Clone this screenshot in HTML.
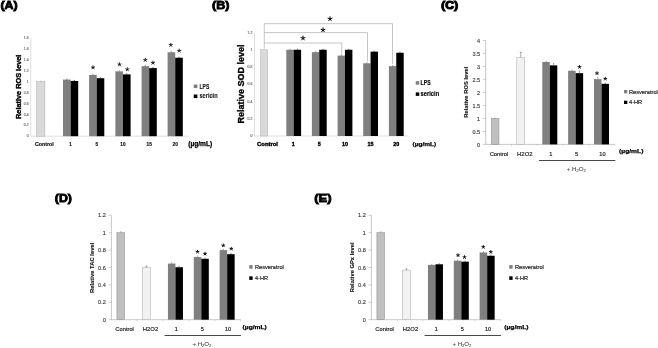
<!DOCTYPE html>
<html><head><meta charset="utf-8"><title>Figure</title>
<style>
html,body{margin:0;padding:0;background:#fff;}
body{width:658px;height:348px;overflow:hidden;}
svg{display:block;font-family:"Liberation Sans",sans-serif;filter:blur(0.3px);}
</style></head><body>
<svg width="658" height="348" viewBox="0 0 658 348">
<rect x="0" y="0" width="658" height="348" fill="#fff"/>
<text x="0.40" y="8.90" font-size="11" text-anchor="start" font-weight="bold" fill="#000" textLength="17.20" lengthAdjust="spacingAndGlyphs" stroke="#000" stroke-width="0.85" stroke-linejoin="miter">(A)</text>
<line x1="30.75" y1="37.74" x2="30.75" y2="136.20" stroke="#bfbfbf" stroke-width="0.5"/>
<line x1="30.75" y1="136.20" x2="188.50" y2="136.20" stroke="#bfbfbf" stroke-width="0.5"/>
<text x="28.55" y="137.40" font-size="3.4" text-anchor="end" font-weight="normal" fill="#777" stroke="#777" stroke-width="0.18" >0</text>
<text x="28.55" y="126.46" font-size="3.4" text-anchor="end" font-weight="normal" fill="#777" stroke="#777" stroke-width="0.18" >0.2</text>
<text x="28.55" y="115.52" font-size="3.4" text-anchor="end" font-weight="normal" fill="#777" stroke="#777" stroke-width="0.18" >0.4</text>
<text x="28.55" y="104.58" font-size="3.4" text-anchor="end" font-weight="normal" fill="#777" stroke="#777" stroke-width="0.18" >0.6</text>
<text x="28.55" y="93.64" font-size="3.4" text-anchor="end" font-weight="normal" fill="#777" stroke="#777" stroke-width="0.18" >0.8</text>
<text x="28.55" y="82.70" font-size="3.4" text-anchor="end" font-weight="normal" fill="#777" stroke="#777" stroke-width="0.18" >1</text>
<text x="28.55" y="71.76" font-size="3.4" text-anchor="end" font-weight="normal" fill="#777" stroke="#777" stroke-width="0.18" >1.2</text>
<text x="28.55" y="60.82" font-size="3.4" text-anchor="end" font-weight="normal" fill="#777" stroke="#777" stroke-width="0.18" >1.4</text>
<text x="28.55" y="49.88" font-size="3.4" text-anchor="end" font-weight="normal" fill="#777" stroke="#777" stroke-width="0.18" >1.6</text>
<text x="28.55" y="38.94" font-size="3.4" text-anchor="end" font-weight="normal" fill="#777" stroke="#777" stroke-width="0.18" >1.8</text>
<text transform="translate(20.90,86.80) rotate(-90)" font-size="7.2" text-anchor="middle" font-weight="bold" fill="#000" stroke="#000" stroke-width="0.35" textLength="64.40" lengthAdjust="spacingAndGlyphs" >Relative ROS level</text>
<rect x="36.50" y="81.50" width="8.40" height="54.70" fill="#d9d9d9" stroke="#adadad" stroke-width="0.5"/>
<line x1="40.70" y1="81.50" x2="40.70" y2="80.90" stroke="#999" stroke-width="0.4"/>
<line x1="40.10" y1="80.90" x2="41.30" y2="80.90" stroke="#999" stroke-width="0.4"/>
<rect x="63.00" y="79.59" width="7.60" height="56.61" fill="#7f7f7f"/>
<rect x="70.60" y="80.95" width="7.60" height="55.25" fill="#000"/>
<line x1="66.80" y1="79.59" x2="66.80" y2="78.99" stroke="#404040" stroke-width="0.4"/>
<line x1="66.20" y1="78.99" x2="67.40" y2="78.99" stroke="#404040" stroke-width="0.4"/>
<line x1="74.40" y1="80.95" x2="74.40" y2="80.35" stroke="#000" stroke-width="0.4"/>
<line x1="73.80" y1="80.35" x2="75.00" y2="80.35" stroke="#000" stroke-width="0.4"/>
<rect x="89.10" y="74.94" width="7.60" height="61.26" fill="#7f7f7f"/>
<rect x="96.70" y="78.22" width="7.60" height="57.98" fill="#000"/>
<line x1="92.90" y1="74.94" x2="92.90" y2="74.34" stroke="#404040" stroke-width="0.4"/>
<line x1="92.30" y1="74.34" x2="93.50" y2="74.34" stroke="#404040" stroke-width="0.4"/>
<line x1="100.50" y1="78.22" x2="100.50" y2="77.62" stroke="#000" stroke-width="0.4"/>
<line x1="99.90" y1="77.62" x2="101.10" y2="77.62" stroke="#000" stroke-width="0.4"/>
<rect x="115.40" y="71.38" width="7.60" height="64.82" fill="#7f7f7f"/>
<rect x="123.00" y="74.39" width="7.60" height="61.81" fill="#000"/>
<line x1="119.20" y1="71.38" x2="119.20" y2="70.78" stroke="#404040" stroke-width="0.4"/>
<line x1="118.60" y1="70.78" x2="119.80" y2="70.78" stroke="#404040" stroke-width="0.4"/>
<line x1="126.80" y1="74.39" x2="126.80" y2="73.79" stroke="#000" stroke-width="0.4"/>
<line x1="126.20" y1="73.79" x2="127.40" y2="73.79" stroke="#000" stroke-width="0.4"/>
<rect x="141.60" y="66.18" width="7.60" height="70.02" fill="#7f7f7f"/>
<rect x="149.20" y="68.10" width="7.60" height="68.10" fill="#000"/>
<line x1="145.40" y1="66.18" x2="145.40" y2="65.58" stroke="#404040" stroke-width="0.4"/>
<line x1="144.80" y1="65.58" x2="146.00" y2="65.58" stroke="#404040" stroke-width="0.4"/>
<line x1="153.00" y1="68.10" x2="153.00" y2="67.50" stroke="#000" stroke-width="0.4"/>
<line x1="152.40" y1="67.50" x2="153.60" y2="67.50" stroke="#000" stroke-width="0.4"/>
<rect x="167.60" y="52.24" width="7.60" height="83.96" fill="#7f7f7f"/>
<rect x="175.20" y="57.71" width="7.60" height="78.49" fill="#000"/>
<line x1="171.40" y1="52.24" x2="171.40" y2="51.64" stroke="#404040" stroke-width="0.4"/>
<line x1="170.80" y1="51.64" x2="172.00" y2="51.64" stroke="#404040" stroke-width="0.4"/>
<line x1="179.00" y1="57.71" x2="179.00" y2="57.11" stroke="#000" stroke-width="0.4"/>
<line x1="178.40" y1="57.11" x2="179.60" y2="57.11" stroke="#000" stroke-width="0.4"/>
<path d="M93.00,67.50L93.00,65.40M93.00,67.50L95.00,66.85M93.00,67.50L94.23,69.20M93.00,67.50L91.77,69.20M93.00,67.50L91.00,66.85" stroke="#000" stroke-width="0.85" fill="none" stroke-linecap="butt"/>
<path d="M119.50,64.50L119.50,62.40M119.50,64.50L121.50,63.85M119.50,64.50L120.73,66.20M119.50,64.50L118.27,66.20M119.50,64.50L117.50,63.85" stroke="#000" stroke-width="0.85" fill="none" stroke-linecap="butt"/>
<path d="M127.30,69.40L127.30,67.30M127.30,69.40L129.30,68.75M127.30,69.40L128.53,71.10M127.30,69.40L126.07,71.10M127.30,69.40L125.30,68.75" stroke="#000" stroke-width="0.85" fill="none" stroke-linecap="butt"/>
<path d="M145.30,60.00L145.30,57.90M145.30,60.00L147.30,59.35M145.30,60.00L146.53,61.70M145.30,60.00L144.07,61.70M145.30,60.00L143.30,59.35" stroke="#000" stroke-width="0.85" fill="none" stroke-linecap="butt"/>
<path d="M152.90,62.80L152.90,60.70M152.90,62.80L154.90,62.15M152.90,62.80L154.13,64.50M152.90,62.80L151.67,64.50M152.90,62.80L150.90,62.15" stroke="#000" stroke-width="0.85" fill="none" stroke-linecap="butt"/>
<path d="M170.80,45.00L170.80,42.90M170.80,45.00L172.80,44.35M170.80,45.00L172.03,46.70M170.80,45.00L169.57,46.70M170.80,45.00L168.80,44.35" stroke="#000" stroke-width="0.85" fill="none" stroke-linecap="butt"/>
<path d="M179.20,50.80L179.20,48.70M179.20,50.80L181.20,50.15M179.20,50.80L180.43,52.50M179.20,50.80L177.97,52.50M179.20,50.80L177.20,50.15" stroke="#000" stroke-width="0.85" fill="none" stroke-linecap="butt"/>
<text x="44.40" y="145.70" font-size="4.6" text-anchor="middle" font-weight="bold" fill="#111" stroke="#111" stroke-width="0.15" textLength="18.70" lengthAdjust="spacingAndGlyphs" >Control</text>
<text x="70.50" y="145.70" font-size="4.6" text-anchor="middle" font-weight="bold" fill="#111" stroke="#111" stroke-width="0.15" >1</text>
<text x="96.70" y="145.70" font-size="4.6" text-anchor="middle" font-weight="bold" fill="#111" stroke="#111" stroke-width="0.15" >5</text>
<text x="122.90" y="145.70" font-size="4.6" text-anchor="middle" font-weight="bold" fill="#111" stroke="#111" stroke-width="0.15" textLength="5.30" lengthAdjust="spacingAndGlyphs" >10</text>
<text x="149.20" y="145.70" font-size="4.6" text-anchor="middle" font-weight="bold" fill="#111" stroke="#111" stroke-width="0.15" textLength="5.30" lengthAdjust="spacingAndGlyphs" >15</text>
<text x="175.20" y="145.70" font-size="4.6" text-anchor="middle" font-weight="bold" fill="#111" stroke="#111" stroke-width="0.15" textLength="5.30" lengthAdjust="spacingAndGlyphs" >20</text>
<text x="188.20" y="146.30" font-size="6.7" text-anchor="start" font-weight="bold" fill="#000" textLength="24.10" lengthAdjust="spacingAndGlyphs" stroke="#000" stroke-width="0.25">(µg/mL)</text>
<rect x="193.75" y="84.50" width="3.65" height="3.60" fill="#7f7f7f"/>
<text x="199.50" y="88.60" font-size="6.3" text-anchor="start" font-weight="bold" fill="#111" stroke="#111" stroke-width="0.1" textLength="9.80" lengthAdjust="spacingAndGlyphs" >LPS</text>
<rect x="193.75" y="94.50" width="3.65" height="3.60" fill="#000"/>
<text x="199.50" y="98.40" font-size="6.3" text-anchor="start" font-weight="bold" fill="#111" stroke="#111" stroke-width="0.1" textLength="18.10" lengthAdjust="spacingAndGlyphs" >sericin</text>
<text x="212.00" y="8.90" font-size="11" text-anchor="start" font-weight="bold" fill="#000" textLength="17.40" lengthAdjust="spacingAndGlyphs" stroke="#000" stroke-width="0.85" stroke-linejoin="miter">(B)</text>
<line x1="254.50" y1="32.50" x2="254.50" y2="136.00" stroke="#bfbfbf" stroke-width="0.5"/>
<line x1="254.50" y1="136.00" x2="407.50" y2="136.00" stroke="#bfbfbf" stroke-width="0.5"/>
<text x="252.30" y="137.20" font-size="3.4" text-anchor="end" font-weight="normal" fill="#777" stroke="#777" stroke-width="0.18" >0</text>
<text x="252.30" y="119.95" font-size="3.4" text-anchor="end" font-weight="normal" fill="#777" stroke="#777" stroke-width="0.18" >0.2</text>
<text x="252.30" y="102.70" font-size="3.4" text-anchor="end" font-weight="normal" fill="#777" stroke="#777" stroke-width="0.18" >0.4</text>
<text x="252.30" y="85.45" font-size="3.4" text-anchor="end" font-weight="normal" fill="#777" stroke="#777" stroke-width="0.18" >0.6</text>
<text x="252.30" y="68.20" font-size="3.4" text-anchor="end" font-weight="normal" fill="#777" stroke="#777" stroke-width="0.18" >0.8</text>
<text x="252.30" y="50.95" font-size="3.4" text-anchor="end" font-weight="normal" fill="#777" stroke="#777" stroke-width="0.18" >1</text>
<text x="252.30" y="33.70" font-size="3.4" text-anchor="end" font-weight="normal" fill="#777" stroke="#777" stroke-width="0.18" >1.2</text>
<text transform="translate(244.10,84.00) rotate(-90)" font-size="8.9" text-anchor="middle" font-weight="bold" fill="#000" stroke="#000" stroke-width="0.35" textLength="79.00" lengthAdjust="spacingAndGlyphs" >Relative SOD level</text>
<rect x="260.60" y="49.75" width="7.10" height="86.25" fill="#d9d9d9" stroke="#adadad" stroke-width="0.5"/>
<rect x="286.30" y="49.75" width="7.35" height="86.25" fill="#7f7f7f"/>
<rect x="293.65" y="49.75" width="7.45" height="86.25" fill="#000"/>
<line x1="290.00" y1="49.75" x2="290.00" y2="49.25" stroke="#404040" stroke-width="0.4"/>
<line x1="289.40" y1="49.25" x2="290.60" y2="49.25" stroke="#404040" stroke-width="0.4"/>
<line x1="297.40" y1="49.75" x2="297.40" y2="49.25" stroke="#000" stroke-width="0.4"/>
<line x1="296.80" y1="49.25" x2="298.00" y2="49.25" stroke="#000" stroke-width="0.4"/>
<rect x="311.90" y="52.17" width="7.35" height="83.83" fill="#7f7f7f"/>
<rect x="319.25" y="49.75" width="7.45" height="86.25" fill="#000"/>
<line x1="315.60" y1="52.17" x2="315.60" y2="51.67" stroke="#404040" stroke-width="0.4"/>
<line x1="315.00" y1="51.67" x2="316.20" y2="51.67" stroke="#404040" stroke-width="0.4"/>
<line x1="323.00" y1="49.75" x2="323.00" y2="49.25" stroke="#000" stroke-width="0.4"/>
<line x1="322.40" y1="49.25" x2="323.60" y2="49.25" stroke="#000" stroke-width="0.4"/>
<rect x="337.60" y="55.61" width="7.35" height="80.39" fill="#7f7f7f"/>
<rect x="344.95" y="49.75" width="7.45" height="86.25" fill="#000"/>
<line x1="341.30" y1="55.61" x2="341.30" y2="55.11" stroke="#404040" stroke-width="0.4"/>
<line x1="340.70" y1="55.11" x2="341.90" y2="55.11" stroke="#404040" stroke-width="0.4"/>
<line x1="348.70" y1="49.75" x2="348.70" y2="49.25" stroke="#000" stroke-width="0.4"/>
<line x1="348.10" y1="49.25" x2="349.30" y2="49.25" stroke="#000" stroke-width="0.4"/>
<rect x="363.20" y="63.29" width="7.35" height="72.71" fill="#7f7f7f"/>
<rect x="370.55" y="51.65" width="7.45" height="84.35" fill="#000"/>
<line x1="366.90" y1="63.29" x2="366.90" y2="62.79" stroke="#404040" stroke-width="0.4"/>
<line x1="366.30" y1="62.79" x2="367.50" y2="62.79" stroke="#404040" stroke-width="0.4"/>
<line x1="374.30" y1="51.65" x2="374.30" y2="51.15" stroke="#000" stroke-width="0.4"/>
<line x1="373.70" y1="51.15" x2="374.90" y2="51.15" stroke="#000" stroke-width="0.4"/>
<rect x="388.90" y="66.14" width="7.35" height="69.86" fill="#7f7f7f"/>
<rect x="396.25" y="52.77" width="7.45" height="83.23" fill="#000"/>
<line x1="392.60" y1="66.14" x2="392.60" y2="65.64" stroke="#404040" stroke-width="0.4"/>
<line x1="392.00" y1="65.64" x2="393.20" y2="65.64" stroke="#404040" stroke-width="0.4"/>
<line x1="400.00" y1="52.77" x2="400.00" y2="52.27" stroke="#000" stroke-width="0.4"/>
<line x1="399.40" y1="52.27" x2="400.60" y2="52.27" stroke="#000" stroke-width="0.4"/>
<line x1="264.25" y1="23.70" x2="264.25" y2="48.60" stroke="#8c8c8c" stroke-width="0.5"/>
<line x1="264.25" y1="23.70" x2="392.50" y2="23.70" stroke="#8c8c8c" stroke-width="0.5"/>
<line x1="392.50" y1="23.70" x2="392.50" y2="64.00" stroke="#8c8c8c" stroke-width="0.5"/>
<line x1="264.25" y1="32.60" x2="367.50" y2="32.60" stroke="#8c8c8c" stroke-width="0.5"/>
<line x1="367.50" y1="32.60" x2="367.50" y2="61.50" stroke="#8c8c8c" stroke-width="0.5"/>
<line x1="264.25" y1="43.00" x2="341.80" y2="43.00" stroke="#8c8c8c" stroke-width="0.5"/>
<line x1="341.80" y1="43.00" x2="341.80" y2="55.00" stroke="#8c8c8c" stroke-width="0.5"/>
<path d="M330.00,18.90L330.00,16.40M330.00,18.90L332.38,18.13M330.00,18.90L331.47,20.92M330.00,18.90L328.53,20.92M330.00,18.90L327.62,18.13" stroke="#000" stroke-width="1.0" fill="none" stroke-linecap="butt"/>
<path d="M323.00,30.00L323.00,27.50M323.00,30.00L325.38,29.23M323.00,30.00L324.47,32.02M323.00,30.00L321.53,32.02M323.00,30.00L320.62,29.23" stroke="#000" stroke-width="1.0" fill="none" stroke-linecap="butt"/>
<path d="M303.00,38.20L303.00,35.70M303.00,38.20L305.38,37.43M303.00,38.20L304.47,40.22M303.00,38.20L301.53,40.22M303.00,38.20L300.62,37.43" stroke="#000" stroke-width="1.0" fill="none" stroke-linecap="butt"/>
<text x="267.50" y="146.00" font-size="5.4" text-anchor="middle" font-weight="bold" fill="#000" textLength="20.80" lengthAdjust="spacingAndGlyphs" stroke="#000" stroke-width="0.35">Control</text>
<text x="293.30" y="146.00" font-size="5.4" text-anchor="middle" font-weight="bold" fill="#000" stroke="#000" stroke-width="0.35">1</text>
<text x="319.30" y="146.00" font-size="5.4" text-anchor="middle" font-weight="bold" fill="#000" stroke="#000" stroke-width="0.35">5</text>
<text x="345.00" y="146.00" font-size="5.4" text-anchor="middle" font-weight="bold" fill="#000" stroke="#000" stroke-width="0.35">10</text>
<text x="370.60" y="146.00" font-size="5.4" text-anchor="middle" font-weight="bold" fill="#000" stroke="#000" stroke-width="0.35">15</text>
<text x="396.30" y="146.00" font-size="5.4" text-anchor="middle" font-weight="bold" fill="#000" stroke="#000" stroke-width="0.35">20</text>
<text x="412.50" y="146.30" font-size="6.1" text-anchor="start" font-weight="bold" fill="#000" textLength="23.80" lengthAdjust="spacingAndGlyphs" stroke="#000" stroke-width="0.25">(µg/mL)</text>
<rect x="415.75" y="81.20" width="3.50" height="3.50" fill="#7f7f7f"/>
<text x="420.60" y="85.10" font-size="6.3" text-anchor="start" font-weight="bold" fill="#000" stroke="#000" stroke-width="0.15" textLength="10.00" lengthAdjust="spacingAndGlyphs" >LPS</text>
<rect x="415.75" y="92.40" width="3.50" height="3.50" fill="#000"/>
<text x="420.60" y="96.10" font-size="6.3" text-anchor="start" font-weight="bold" fill="#000" stroke="#000" stroke-width="0.15" textLength="18.60" lengthAdjust="spacingAndGlyphs" >sericin</text>
<text x="441.10" y="8.90" font-size="11" text-anchor="start" font-weight="bold" fill="#000" textLength="17.30" lengthAdjust="spacingAndGlyphs" stroke="#000" stroke-width="0.85" stroke-linejoin="miter">(<tspan font-size="10.4" dy="0" stroke-width="1.1">C</tspan><tspan dy="0">)</tspan></text>
<line x1="485.75" y1="40.40" x2="485.75" y2="144.40" stroke="#9a9a9a" stroke-width="0.55"/>
<line x1="485.75" y1="144.40" x2="615.00" y2="144.40" stroke="#9a9a9a" stroke-width="0.55"/>
<line x1="482.95" y1="144.40" x2="485.75" y2="144.40" stroke="#9a9a9a" stroke-width="0.5"/>
<text x="480.15" y="146.55" font-size="6.2" text-anchor="end" font-weight="normal" fill="#333" stroke="#333" stroke-width="0.12" textLength="3.10" lengthAdjust="spacingAndGlyphs" >0</text>
<line x1="482.95" y1="131.40" x2="485.75" y2="131.40" stroke="#9a9a9a" stroke-width="0.5"/>
<text x="480.15" y="133.55" font-size="6.2" text-anchor="end" font-weight="normal" fill="#333" stroke="#333" stroke-width="0.12" textLength="7.70" lengthAdjust="spacingAndGlyphs" >0.5</text>
<line x1="482.95" y1="118.40" x2="485.75" y2="118.40" stroke="#9a9a9a" stroke-width="0.5"/>
<text x="480.15" y="120.55" font-size="6.2" text-anchor="end" font-weight="normal" fill="#333" stroke="#333" stroke-width="0.12" textLength="3.10" lengthAdjust="spacingAndGlyphs" >1</text>
<line x1="482.95" y1="105.40" x2="485.75" y2="105.40" stroke="#9a9a9a" stroke-width="0.5"/>
<text x="480.15" y="107.55" font-size="6.2" text-anchor="end" font-weight="normal" fill="#333" stroke="#333" stroke-width="0.12" textLength="7.70" lengthAdjust="spacingAndGlyphs" >1.5</text>
<line x1="482.95" y1="92.40" x2="485.75" y2="92.40" stroke="#9a9a9a" stroke-width="0.5"/>
<text x="480.15" y="94.55" font-size="6.2" text-anchor="end" font-weight="normal" fill="#333" stroke="#333" stroke-width="0.12" textLength="3.10" lengthAdjust="spacingAndGlyphs" >2</text>
<line x1="482.95" y1="79.40" x2="485.75" y2="79.40" stroke="#9a9a9a" stroke-width="0.5"/>
<text x="480.15" y="81.55" font-size="6.2" text-anchor="end" font-weight="normal" fill="#333" stroke="#333" stroke-width="0.12" textLength="7.70" lengthAdjust="spacingAndGlyphs" >2.5</text>
<line x1="482.95" y1="66.40" x2="485.75" y2="66.40" stroke="#9a9a9a" stroke-width="0.5"/>
<text x="480.15" y="68.55" font-size="6.2" text-anchor="end" font-weight="normal" fill="#333" stroke="#333" stroke-width="0.12" textLength="3.10" lengthAdjust="spacingAndGlyphs" >3</text>
<line x1="482.95" y1="53.40" x2="485.75" y2="53.40" stroke="#9a9a9a" stroke-width="0.5"/>
<text x="480.15" y="55.55" font-size="6.2" text-anchor="end" font-weight="normal" fill="#333" stroke="#333" stroke-width="0.12" textLength="7.70" lengthAdjust="spacingAndGlyphs" >3.5</text>
<line x1="482.95" y1="40.40" x2="485.75" y2="40.40" stroke="#9a9a9a" stroke-width="0.5"/>
<text x="480.15" y="42.55" font-size="6.2" text-anchor="end" font-weight="normal" fill="#333" stroke="#333" stroke-width="0.12" textLength="3.10" lengthAdjust="spacingAndGlyphs" >4</text>
<line x1="511.60" y1="144.40" x2="511.60" y2="146.00" stroke="#b5b5b5" stroke-width="0.5"/>
<line x1="537.45" y1="144.40" x2="537.45" y2="146.00" stroke="#b5b5b5" stroke-width="0.5"/>
<line x1="563.30" y1="144.40" x2="563.30" y2="146.00" stroke="#b5b5b5" stroke-width="0.5"/>
<line x1="589.15" y1="144.40" x2="589.15" y2="146.00" stroke="#b5b5b5" stroke-width="0.5"/>
<line x1="615.00" y1="144.40" x2="615.00" y2="146.00" stroke="#b5b5b5" stroke-width="0.5"/>
<text transform="translate(468.25,92.20) rotate(-90)" font-size="5.9" text-anchor="middle" font-weight="bold" fill="#111" stroke="#111" stroke-width="0.1" textLength="51.00" lengthAdjust="spacingAndGlyphs" >Relative ROS level</text>
<rect x="491.25" y="118.40" width="7.70" height="26.00" fill="#bfbfbf" stroke="#8c8c8c" stroke-width="0.5"/>
<line x1="495.10" y1="118.40" x2="495.10" y2="117.90" stroke="#777" stroke-width="0.4"/>
<line x1="494.50" y1="117.90" x2="495.70" y2="117.90" stroke="#777" stroke-width="0.4"/>
<rect x="516.80" y="57.30" width="7.90" height="87.10" fill="#f2f2f2" stroke="#a6a6a6" stroke-width="0.5"/>
<line x1="520.75" y1="57.30" x2="520.75" y2="52.30" stroke="#444" stroke-width="0.45"/>
<line x1="519.75" y1="52.30" x2="521.75" y2="52.30" stroke="#444" stroke-width="0.45"/>
<rect x="542.30" y="61.98" width="7.50" height="82.42" fill="#7f7f7f"/>
<rect x="549.80" y="65.36" width="7.50" height="79.04" fill="#000"/>
<line x1="546.05" y1="61.98" x2="546.05" y2="61.18" stroke="#555" stroke-width="0.4"/>
<line x1="545.45" y1="61.18" x2="546.65" y2="61.18" stroke="#555" stroke-width="0.4"/>
<line x1="553.55" y1="65.36" x2="553.55" y2="63.56" stroke="#222" stroke-width="0.4"/>
<line x1="552.95" y1="63.56" x2="554.15" y2="63.56" stroke="#222" stroke-width="0.4"/>
<rect x="568.15" y="70.82" width="7.50" height="73.58" fill="#7f7f7f"/>
<rect x="575.65" y="73.16" width="7.50" height="71.24" fill="#000"/>
<line x1="571.90" y1="70.82" x2="571.90" y2="70.02" stroke="#555" stroke-width="0.4"/>
<line x1="571.30" y1="70.02" x2="572.50" y2="70.02" stroke="#555" stroke-width="0.4"/>
<line x1="579.40" y1="73.16" x2="579.40" y2="70.96" stroke="#222" stroke-width="0.4"/>
<line x1="578.80" y1="70.96" x2="580.00" y2="70.96" stroke="#222" stroke-width="0.4"/>
<rect x="594.00" y="79.14" width="7.50" height="65.26" fill="#7f7f7f"/>
<rect x="601.50" y="83.82" width="7.50" height="60.58" fill="#000"/>
<line x1="597.75" y1="79.14" x2="597.75" y2="77.54" stroke="#555" stroke-width="0.4"/>
<line x1="597.15" y1="77.54" x2="598.35" y2="77.54" stroke="#555" stroke-width="0.4"/>
<line x1="605.25" y1="83.82" x2="605.25" y2="83.02" stroke="#222" stroke-width="0.4"/>
<line x1="604.65" y1="83.02" x2="605.85" y2="83.02" stroke="#222" stroke-width="0.4"/>
<path d="M579.50,67.00L579.50,65.05M579.50,67.00L581.35,66.40M579.50,67.00L580.65,68.58M579.50,67.00L578.35,68.58M579.50,67.00L577.65,66.40" stroke="#000" stroke-width="0.9" fill="none" stroke-linecap="butt"/>
<path d="M597.00,73.30L597.00,71.35M597.00,73.30L598.85,72.70M597.00,73.30L598.15,74.88M597.00,73.30L595.85,74.88M597.00,73.30L595.15,72.70" stroke="#000" stroke-width="0.9" fill="none" stroke-linecap="butt"/>
<path d="M605.30,78.80L605.30,76.85M605.30,78.80L607.15,78.20M605.30,78.80L606.45,80.38M605.30,78.80L604.15,80.38M605.30,78.80L603.45,78.20" stroke="#000" stroke-width="0.9" fill="none" stroke-linecap="butt"/>
<text x="498.98" y="155.50" font-size="5.6" text-anchor="middle" font-weight="normal" fill="#222" stroke="#222" stroke-width="0.18" textLength="18.60" lengthAdjust="spacingAndGlyphs" >Control</text>
<text x="524.82" y="155.50" font-size="5.6" text-anchor="middle" font-weight="normal" fill="#222" stroke="#222" stroke-width="0.18" textLength="15.40" lengthAdjust="spacingAndGlyphs" >H2O2</text>
<text x="550.77" y="155.50" font-size="5.6" text-anchor="middle" font-weight="normal" fill="#222" stroke="#222" stroke-width="0.18" >1</text>
<text x="576.62" y="155.50" font-size="5.6" text-anchor="middle" font-weight="normal" fill="#222" stroke="#222" stroke-width="0.18" >5</text>
<text x="602.48" y="155.50" font-size="5.6" text-anchor="middle" font-weight="normal" fill="#222" stroke="#222" stroke-width="0.18" >10</text>
<text x="619.10" y="153.00" font-size="6.0" text-anchor="start" font-weight="bold" fill="#000" textLength="24.30" lengthAdjust="spacingAndGlyphs" stroke="#000" stroke-width="0.25">(µg/mL)</text>
<line x1="538.95" y1="160.50" x2="615.30" y2="160.50" stroke="#1a1a1a" stroke-width="0.8"/>
<text x="576.23" y="170.80" font-size="6.1" text-anchor="middle" fill="#4d4d4d" stroke="#4d4d4d" stroke-width="0.1">+ H<tspan font-size="4.1" dy="1.1">2</tspan><tspan dy="-1.1">O</tspan><tspan font-size="4.1" dy="1.1">2</tspan></text>
<rect x="624.00" y="90.00" width="3.30" height="3.30" fill="#7f7f7f"/>
<text x="629.00" y="93.90" font-size="5.6" text-anchor="start" font-weight="normal" fill="#222" stroke="#222" stroke-width="0.18" textLength="28.80" lengthAdjust="spacingAndGlyphs" >Resveratrol</text>
<rect x="624.00" y="100.70" width="3.30" height="3.30" fill="#000"/>
<text x="629.00" y="104.40" font-size="5.6" text-anchor="start" font-weight="normal" fill="#222" stroke="#222" stroke-width="0.18" textLength="13.20" lengthAdjust="spacingAndGlyphs" >4-HR</text>
<text x="54.80" y="202.10" font-size="11" text-anchor="start" font-weight="bold" fill="#000" textLength="17.10" lengthAdjust="spacingAndGlyphs" stroke="#000" stroke-width="0.85" stroke-linejoin="miter">(D)</text>
<line x1="111.40" y1="215.30" x2="111.40" y2="319.70" stroke="#9a9a9a" stroke-width="0.55"/>
<line x1="111.40" y1="319.70" x2="240.65" y2="319.70" stroke="#9a9a9a" stroke-width="0.55"/>
<line x1="108.60" y1="319.70" x2="111.40" y2="319.70" stroke="#9a9a9a" stroke-width="0.5"/>
<text x="105.80" y="321.85" font-size="6.2" text-anchor="end" font-weight="normal" fill="#333" stroke="#333" stroke-width="0.12" textLength="3.10" lengthAdjust="spacingAndGlyphs" >0</text>
<line x1="108.60" y1="302.30" x2="111.40" y2="302.30" stroke="#9a9a9a" stroke-width="0.5"/>
<text x="105.80" y="304.45" font-size="6.2" text-anchor="end" font-weight="normal" fill="#333" stroke="#333" stroke-width="0.12" textLength="7.70" lengthAdjust="spacingAndGlyphs" >0.2</text>
<line x1="108.60" y1="284.90" x2="111.40" y2="284.90" stroke="#9a9a9a" stroke-width="0.5"/>
<text x="105.80" y="287.05" font-size="6.2" text-anchor="end" font-weight="normal" fill="#333" stroke="#333" stroke-width="0.12" textLength="7.70" lengthAdjust="spacingAndGlyphs" >0.4</text>
<line x1="108.60" y1="267.50" x2="111.40" y2="267.50" stroke="#9a9a9a" stroke-width="0.5"/>
<text x="105.80" y="269.65" font-size="6.2" text-anchor="end" font-weight="normal" fill="#333" stroke="#333" stroke-width="0.12" textLength="7.70" lengthAdjust="spacingAndGlyphs" >0.6</text>
<line x1="108.60" y1="250.10" x2="111.40" y2="250.10" stroke="#9a9a9a" stroke-width="0.5"/>
<text x="105.80" y="252.25" font-size="6.2" text-anchor="end" font-weight="normal" fill="#333" stroke="#333" stroke-width="0.12" textLength="7.70" lengthAdjust="spacingAndGlyphs" >0.8</text>
<line x1="108.60" y1="232.70" x2="111.40" y2="232.70" stroke="#9a9a9a" stroke-width="0.5"/>
<text x="105.80" y="234.85" font-size="6.2" text-anchor="end" font-weight="normal" fill="#333" stroke="#333" stroke-width="0.12" textLength="3.10" lengthAdjust="spacingAndGlyphs" >1</text>
<line x1="108.60" y1="215.30" x2="111.40" y2="215.30" stroke="#9a9a9a" stroke-width="0.5"/>
<text x="105.80" y="217.45" font-size="6.2" text-anchor="end" font-weight="normal" fill="#333" stroke="#333" stroke-width="0.12" textLength="7.70" lengthAdjust="spacingAndGlyphs" >1.2</text>
<line x1="137.25" y1="319.70" x2="137.25" y2="321.30" stroke="#b5b5b5" stroke-width="0.5"/>
<line x1="163.10" y1="319.70" x2="163.10" y2="321.30" stroke="#b5b5b5" stroke-width="0.5"/>
<line x1="188.95" y1="319.70" x2="188.95" y2="321.30" stroke="#b5b5b5" stroke-width="0.5"/>
<line x1="214.80" y1="319.70" x2="214.80" y2="321.30" stroke="#b5b5b5" stroke-width="0.5"/>
<line x1="240.65" y1="319.70" x2="240.65" y2="321.30" stroke="#b5b5b5" stroke-width="0.5"/>
<text transform="translate(93.90,267.90) rotate(-90)" font-size="5.9" text-anchor="middle" font-weight="bold" fill="#111" stroke="#111" stroke-width="0.1" textLength="50.40" lengthAdjust="spacingAndGlyphs" >Relative TAC level</text>
<rect x="116.90" y="232.70" width="7.70" height="87.00" fill="#bfbfbf" stroke="#8c8c8c" stroke-width="0.5"/>
<line x1="120.75" y1="232.70" x2="120.75" y2="231.70" stroke="#777" stroke-width="0.4"/>
<line x1="120.15" y1="231.70" x2="121.35" y2="231.70" stroke="#777" stroke-width="0.4"/>
<rect x="142.45" y="267.50" width="7.90" height="52.20" fill="#f2f2f2" stroke="#a6a6a6" stroke-width="0.5"/>
<line x1="146.40" y1="267.50" x2="146.40" y2="266.10" stroke="#444" stroke-width="0.45"/>
<line x1="145.40" y1="266.10" x2="147.40" y2="266.10" stroke="#444" stroke-width="0.45"/>
<rect x="167.95" y="263.58" width="7.50" height="56.12" fill="#7f7f7f"/>
<rect x="175.45" y="267.24" width="7.50" height="52.46" fill="#000"/>
<line x1="171.70" y1="263.58" x2="171.70" y2="262.58" stroke="#555" stroke-width="0.4"/>
<line x1="171.10" y1="262.58" x2="172.30" y2="262.58" stroke="#555" stroke-width="0.4"/>
<line x1="179.20" y1="267.24" x2="179.20" y2="266.44" stroke="#222" stroke-width="0.4"/>
<line x1="178.60" y1="266.44" x2="179.80" y2="266.44" stroke="#222" stroke-width="0.4"/>
<rect x="193.80" y="257.06" width="7.50" height="62.64" fill="#7f7f7f"/>
<rect x="201.30" y="258.80" width="7.50" height="60.90" fill="#000"/>
<line x1="197.55" y1="257.06" x2="197.55" y2="256.16" stroke="#555" stroke-width="0.4"/>
<line x1="196.95" y1="256.16" x2="198.15" y2="256.16" stroke="#555" stroke-width="0.4"/>
<line x1="205.05" y1="258.80" x2="205.05" y2="258.00" stroke="#222" stroke-width="0.4"/>
<line x1="204.45" y1="258.00" x2="205.65" y2="258.00" stroke="#222" stroke-width="0.4"/>
<rect x="219.65" y="250.10" width="7.50" height="69.60" fill="#7f7f7f"/>
<rect x="227.15" y="254.19" width="7.50" height="65.51" fill="#000"/>
<line x1="223.40" y1="250.10" x2="223.40" y2="249.30" stroke="#555" stroke-width="0.4"/>
<line x1="222.80" y1="249.30" x2="224.00" y2="249.30" stroke="#555" stroke-width="0.4"/>
<line x1="230.90" y1="254.19" x2="230.90" y2="253.39" stroke="#222" stroke-width="0.4"/>
<line x1="230.30" y1="253.39" x2="231.50" y2="253.39" stroke="#222" stroke-width="0.4"/>
<path d="M197.50,251.80L197.50,249.85M197.50,251.80L199.35,251.20M197.50,251.80L198.65,253.38M197.50,251.80L196.35,253.38M197.50,251.80L195.65,251.20" stroke="#000" stroke-width="0.9" fill="none" stroke-linecap="butt"/>
<path d="M205.00,253.80L205.00,251.85M205.00,253.80L206.85,253.20M205.00,253.80L206.15,255.38M205.00,253.80L203.85,255.38M205.00,253.80L203.15,253.20" stroke="#000" stroke-width="0.9" fill="none" stroke-linecap="butt"/>
<path d="M223.30,245.50L223.30,243.55M223.30,245.50L225.15,244.90M223.30,245.50L224.45,247.08M223.30,245.50L222.15,247.08M223.30,245.50L221.45,244.90" stroke="#000" stroke-width="0.9" fill="none" stroke-linecap="butt"/>
<path d="M231.30,248.80L231.30,246.85M231.30,248.80L233.15,248.20M231.30,248.80L232.45,250.38M231.30,248.80L230.15,250.38M231.30,248.80L229.45,248.20" stroke="#000" stroke-width="0.9" fill="none" stroke-linecap="butt"/>
<text x="124.62" y="330.80" font-size="5.6" text-anchor="middle" font-weight="normal" fill="#222" stroke="#222" stroke-width="0.18" textLength="18.60" lengthAdjust="spacingAndGlyphs" >Control</text>
<text x="150.48" y="330.80" font-size="5.6" text-anchor="middle" font-weight="normal" fill="#222" stroke="#222" stroke-width="0.18" textLength="15.40" lengthAdjust="spacingAndGlyphs" >H2O2</text>
<text x="176.43" y="330.80" font-size="5.6" text-anchor="middle" font-weight="normal" fill="#222" stroke="#222" stroke-width="0.18" >1</text>
<text x="202.28" y="330.80" font-size="5.6" text-anchor="middle" font-weight="normal" fill="#222" stroke="#222" stroke-width="0.18" >5</text>
<text x="228.13" y="330.80" font-size="5.6" text-anchor="middle" font-weight="normal" fill="#222" stroke="#222" stroke-width="0.18" >10</text>
<text x="242.55" y="329.30" font-size="6.0" text-anchor="start" font-weight="bold" fill="#000" textLength="24.30" lengthAdjust="spacingAndGlyphs" stroke="#000" stroke-width="0.25">(µg/mL)</text>
<line x1="164.60" y1="335.50" x2="240.95" y2="335.50" stroke="#1a1a1a" stroke-width="0.8"/>
<text x="201.88" y="346.10" font-size="6.1" text-anchor="middle" fill="#4d4d4d" stroke="#4d4d4d" stroke-width="0.1">+ H<tspan font-size="4.1" dy="1.1">2</tspan><tspan dy="-1.1">O</tspan><tspan font-size="4.1" dy="1.1">2</tspan></text>
<rect x="249.25" y="265.10" width="3.35" height="3.60" fill="#7f7f7f"/>
<text x="255.00" y="268.90" font-size="5.6" text-anchor="start" font-weight="normal" fill="#222" stroke="#222" stroke-width="0.18" textLength="28.80" lengthAdjust="spacingAndGlyphs" >Resveratrol</text>
<rect x="249.25" y="276.30" width="3.35" height="3.60" fill="#000"/>
<text x="255.00" y="280.00" font-size="5.6" text-anchor="start" font-weight="normal" fill="#222" stroke="#222" stroke-width="0.18" textLength="13.00" lengthAdjust="spacingAndGlyphs" >4-HR</text>
<text x="314.20" y="202.10" font-size="11" text-anchor="start" font-weight="bold" fill="#000" textLength="17.40" lengthAdjust="spacingAndGlyphs" stroke="#000" stroke-width="0.85" stroke-linejoin="miter">(E)</text>
<line x1="371.40" y1="215.30" x2="371.40" y2="319.70" stroke="#9a9a9a" stroke-width="0.55"/>
<line x1="371.40" y1="319.70" x2="500.65" y2="319.70" stroke="#9a9a9a" stroke-width="0.55"/>
<line x1="368.60" y1="319.70" x2="371.40" y2="319.70" stroke="#9a9a9a" stroke-width="0.5"/>
<text x="365.80" y="321.85" font-size="6.2" text-anchor="end" font-weight="normal" fill="#333" stroke="#333" stroke-width="0.12" textLength="3.10" lengthAdjust="spacingAndGlyphs" >0</text>
<line x1="368.60" y1="302.30" x2="371.40" y2="302.30" stroke="#9a9a9a" stroke-width="0.5"/>
<text x="365.80" y="304.45" font-size="6.2" text-anchor="end" font-weight="normal" fill="#333" stroke="#333" stroke-width="0.12" textLength="7.70" lengthAdjust="spacingAndGlyphs" >0.2</text>
<line x1="368.60" y1="284.90" x2="371.40" y2="284.90" stroke="#9a9a9a" stroke-width="0.5"/>
<text x="365.80" y="287.05" font-size="6.2" text-anchor="end" font-weight="normal" fill="#333" stroke="#333" stroke-width="0.12" textLength="7.70" lengthAdjust="spacingAndGlyphs" >0.4</text>
<line x1="368.60" y1="267.50" x2="371.40" y2="267.50" stroke="#9a9a9a" stroke-width="0.5"/>
<text x="365.80" y="269.65" font-size="6.2" text-anchor="end" font-weight="normal" fill="#333" stroke="#333" stroke-width="0.12" textLength="7.70" lengthAdjust="spacingAndGlyphs" >0.6</text>
<line x1="368.60" y1="250.10" x2="371.40" y2="250.10" stroke="#9a9a9a" stroke-width="0.5"/>
<text x="365.80" y="252.25" font-size="6.2" text-anchor="end" font-weight="normal" fill="#333" stroke="#333" stroke-width="0.12" textLength="7.70" lengthAdjust="spacingAndGlyphs" >0.8</text>
<line x1="368.60" y1="232.70" x2="371.40" y2="232.70" stroke="#9a9a9a" stroke-width="0.5"/>
<text x="365.80" y="234.85" font-size="6.2" text-anchor="end" font-weight="normal" fill="#333" stroke="#333" stroke-width="0.12" textLength="3.10" lengthAdjust="spacingAndGlyphs" >1</text>
<line x1="368.60" y1="215.30" x2="371.40" y2="215.30" stroke="#9a9a9a" stroke-width="0.5"/>
<text x="365.80" y="217.45" font-size="6.2" text-anchor="end" font-weight="normal" fill="#333" stroke="#333" stroke-width="0.12" textLength="7.70" lengthAdjust="spacingAndGlyphs" >1.2</text>
<line x1="397.25" y1="319.70" x2="397.25" y2="321.30" stroke="#b5b5b5" stroke-width="0.5"/>
<line x1="423.10" y1="319.70" x2="423.10" y2="321.30" stroke="#b5b5b5" stroke-width="0.5"/>
<line x1="448.95" y1="319.70" x2="448.95" y2="321.30" stroke="#b5b5b5" stroke-width="0.5"/>
<line x1="474.80" y1="319.70" x2="474.80" y2="321.30" stroke="#b5b5b5" stroke-width="0.5"/>
<line x1="500.65" y1="319.70" x2="500.65" y2="321.30" stroke="#b5b5b5" stroke-width="0.5"/>
<text transform="translate(353.90,267.40) rotate(-90)" font-size="5.9" text-anchor="middle" font-weight="bold" fill="#111" stroke="#111" stroke-width="0.1" textLength="49.80" lengthAdjust="spacingAndGlyphs" >Relative GPx level</text>
<rect x="376.90" y="232.70" width="7.70" height="87.00" fill="#bfbfbf" stroke="#8c8c8c" stroke-width="0.5"/>
<line x1="380.75" y1="232.70" x2="380.75" y2="231.70" stroke="#777" stroke-width="0.4"/>
<line x1="380.15" y1="231.70" x2="381.35" y2="231.70" stroke="#777" stroke-width="0.4"/>
<rect x="402.45" y="270.11" width="7.90" height="49.59" fill="#f2f2f2" stroke="#a6a6a6" stroke-width="0.5"/>
<line x1="406.40" y1="270.11" x2="406.40" y2="268.91" stroke="#444" stroke-width="0.45"/>
<line x1="405.40" y1="268.91" x2="407.40" y2="268.91" stroke="#444" stroke-width="0.45"/>
<rect x="427.95" y="264.89" width="7.50" height="54.81" fill="#7f7f7f"/>
<rect x="435.45" y="264.28" width="7.50" height="55.42" fill="#000"/>
<line x1="431.70" y1="264.89" x2="431.70" y2="264.29" stroke="#555" stroke-width="0.4"/>
<line x1="431.10" y1="264.29" x2="432.30" y2="264.29" stroke="#555" stroke-width="0.4"/>
<line x1="439.20" y1="264.28" x2="439.20" y2="263.68" stroke="#222" stroke-width="0.4"/>
<line x1="438.60" y1="263.68" x2="439.80" y2="263.68" stroke="#222" stroke-width="0.4"/>
<rect x="453.80" y="260.71" width="7.50" height="58.99" fill="#7f7f7f"/>
<rect x="461.30" y="261.67" width="7.50" height="58.03" fill="#000"/>
<line x1="457.55" y1="260.71" x2="457.55" y2="260.11" stroke="#555" stroke-width="0.4"/>
<line x1="456.95" y1="260.11" x2="458.15" y2="260.11" stroke="#555" stroke-width="0.4"/>
<line x1="465.05" y1="261.67" x2="465.05" y2="261.07" stroke="#222" stroke-width="0.4"/>
<line x1="464.45" y1="261.07" x2="465.65" y2="261.07" stroke="#222" stroke-width="0.4"/>
<rect x="479.65" y="252.45" width="7.50" height="67.25" fill="#7f7f7f"/>
<rect x="487.15" y="255.75" width="7.50" height="63.94" fill="#000"/>
<line x1="483.40" y1="252.45" x2="483.40" y2="251.65" stroke="#555" stroke-width="0.4"/>
<line x1="482.80" y1="251.65" x2="484.00" y2="251.65" stroke="#555" stroke-width="0.4"/>
<line x1="490.90" y1="255.75" x2="490.90" y2="254.95" stroke="#222" stroke-width="0.4"/>
<line x1="490.30" y1="254.95" x2="491.50" y2="254.95" stroke="#222" stroke-width="0.4"/>
<path d="M458.00,255.30L458.00,253.35M458.00,255.30L459.85,254.70M458.00,255.30L459.15,256.88M458.00,255.30L456.85,256.88M458.00,255.30L456.15,254.70" stroke="#000" stroke-width="0.9" fill="none" stroke-linecap="butt"/>
<path d="M464.50,257.20L464.50,255.25M464.50,257.20L466.35,256.60M464.50,257.20L465.65,258.78M464.50,257.20L463.35,258.78M464.50,257.20L462.65,256.60" stroke="#000" stroke-width="0.9" fill="none" stroke-linecap="butt"/>
<path d="M483.30,247.00L483.30,245.05M483.30,247.00L485.15,246.40M483.30,247.00L484.45,248.58M483.30,247.00L482.15,248.58M483.30,247.00L481.45,246.40" stroke="#000" stroke-width="0.9" fill="none" stroke-linecap="butt"/>
<path d="M490.80,252.00L490.80,250.05M490.80,252.00L492.65,251.40M490.80,252.00L491.95,253.58M490.80,252.00L489.65,253.58M490.80,252.00L488.95,251.40" stroke="#000" stroke-width="0.9" fill="none" stroke-linecap="butt"/>
<text x="384.62" y="330.80" font-size="5.6" text-anchor="middle" font-weight="normal" fill="#222" stroke="#222" stroke-width="0.18" textLength="18.60" lengthAdjust="spacingAndGlyphs" >Control</text>
<text x="410.47" y="330.80" font-size="5.6" text-anchor="middle" font-weight="normal" fill="#222" stroke="#222" stroke-width="0.18" textLength="15.40" lengthAdjust="spacingAndGlyphs" >H2O2</text>
<text x="436.42" y="330.80" font-size="5.6" text-anchor="middle" font-weight="normal" fill="#222" stroke="#222" stroke-width="0.18" >1</text>
<text x="462.27" y="330.80" font-size="5.6" text-anchor="middle" font-weight="normal" fill="#222" stroke="#222" stroke-width="0.18" >5</text>
<text x="488.12" y="330.80" font-size="5.6" text-anchor="middle" font-weight="normal" fill="#222" stroke="#222" stroke-width="0.18" >10</text>
<text x="504.25" y="329.30" font-size="6.0" text-anchor="start" font-weight="bold" fill="#000" textLength="24.30" lengthAdjust="spacingAndGlyphs" stroke="#000" stroke-width="0.25">(µg/mL)</text>
<line x1="424.60" y1="335.50" x2="500.95" y2="335.50" stroke="#1a1a1a" stroke-width="0.8"/>
<text x="461.88" y="346.10" font-size="6.1" text-anchor="middle" fill="#4d4d4d" stroke="#4d4d4d" stroke-width="0.1">+ H<tspan font-size="4.1" dy="1.1">2</tspan><tspan dy="-1.1">O</tspan><tspan font-size="4.1" dy="1.1">2</tspan></text>
<rect x="509.25" y="265.10" width="3.35" height="3.60" fill="#7f7f7f"/>
<text x="515.00" y="268.90" font-size="5.6" text-anchor="start" font-weight="normal" fill="#222" stroke="#222" stroke-width="0.18" textLength="28.80" lengthAdjust="spacingAndGlyphs" >Resveratrol</text>
<rect x="509.25" y="276.30" width="3.35" height="3.60" fill="#000"/>
<text x="515.00" y="280.00" font-size="5.6" text-anchor="start" font-weight="normal" fill="#222" stroke="#222" stroke-width="0.18" textLength="13.00" lengthAdjust="spacingAndGlyphs" >4-HR</text>
</svg>
</body></html>
